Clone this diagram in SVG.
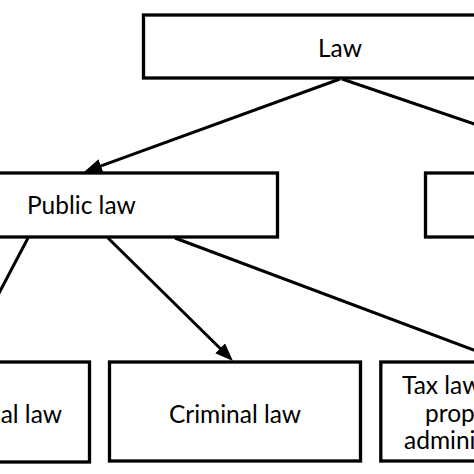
<svg xmlns="http://www.w3.org/2000/svg" width="474" height="474" viewBox="0 0 474 474">
<style>
.box{fill:#fff;stroke:#000;stroke-width:3.3}
.lbl{font-family:Lato,"Liberation Sans",sans-serif;font-size:24.5px;fill:#000}
.edge{stroke:#000;stroke-width:3;fill:none;marker-end:url(#ah)}
</style>
<defs>
<marker id="ah" viewBox="0 0 18 14" refX="13" refY="7" markerWidth="18" markerHeight="14" orient="auto" markerUnits="userSpaceOnUse">
<path d="M0,0 L18,7 L0,14 z" fill="#000"/>
</marker>
</defs>
<rect width="474" height="474" fill="#fff"/>
<g id="connectors">
<line class="edge" x1="340" y1="79" x2="88.7" y2="170.3"/>
<line class="edge" x1="342" y1="79" x2="611.3" y2="170.4"/>
<line class="edge" x1="28" y1="238" x2="-35" y2="358"/>
<line class="edge" x1="108" y1="238" x2="229.4" y2="357.5"/>
<line class="edge" x1="175" y1="238" x2="498.3" y2="359.2"/>
</g>
<g id="law">
<rect class="box" x="143.5" y="15" width="396" height="63"/>
<text class="lbl" x="340" y="57" text-anchor="middle">Law</text>
</g>
<g id="public-law">
<rect class="box" x="-110" y="173" width="387.5" height="64"/>
<text class="lbl" x="27" y="214">Public law</text>
</g>
<g id="private-law">
<rect class="box" x="425.5" y="173" width="380" height="64"/>
</g>
<g id="constitutional-law">
<rect class="box" x="-160" y="362" width="249.5" height="100"/>
<text class="lbl" x="62" y="423" text-anchor="end">Constitutional law</text>
</g>
<g id="criminal-law">
<rect class="box" x="109.5" y="362" width="251" height="99"/>
<text class="lbl" x="235" y="423" text-anchor="middle">Criminal law</text>
</g>
<g id="tax-law">
<rect class="box" x="380.8" y="362" width="248" height="99"/>
<text class="lbl" x="402" y="394">Tax law and</text>
<text class="lbl" x="425" y="422">property</text>
<text class="lbl" x="404" y="449">administration</text>
</g>
</svg>
